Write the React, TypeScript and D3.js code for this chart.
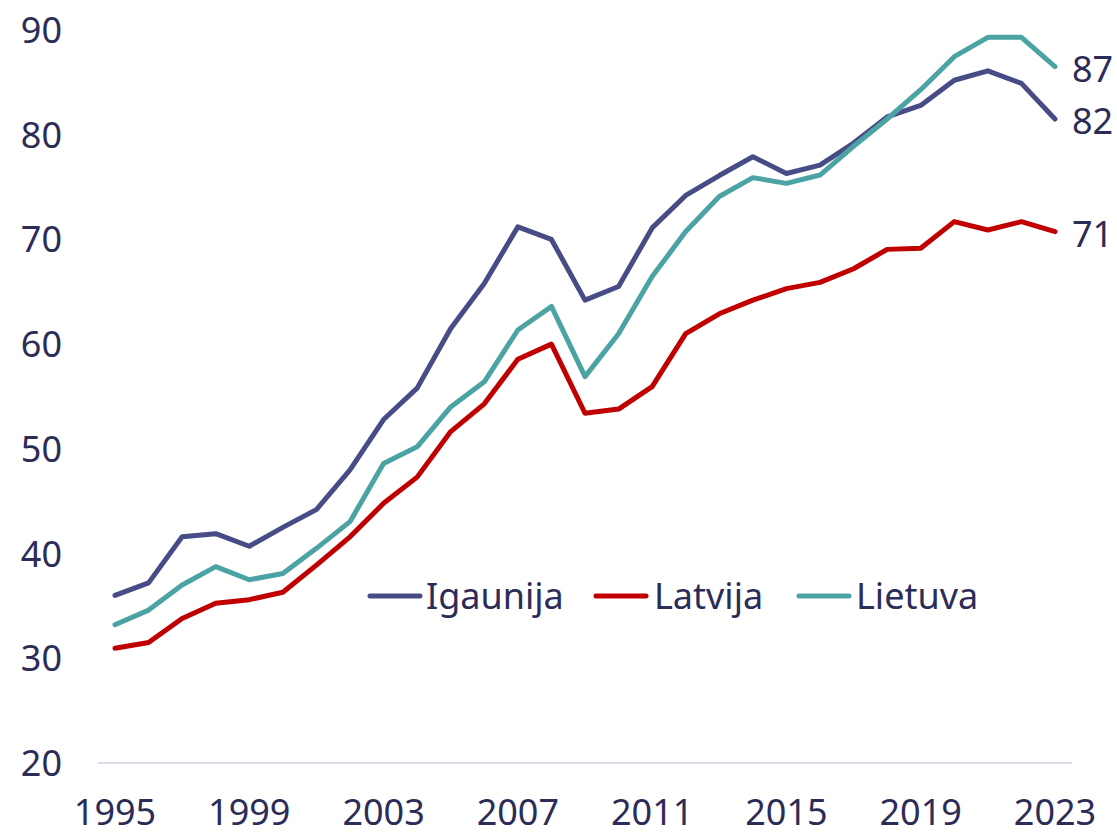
import React from 'react';
import * as d3 from 'd3';

const years = d3.range(1995, 2024);

const igaunija = [36.0, 37.2, 41.6, 41.9, 40.7, 42.5, 44.2, 48.0, 52.8, 55.8, 61.5, 65.8, 71.2, 70.0, 64.2, 65.5, 71.1, 74.2, 76.1, 77.9, 76.3, 77.1, 79.2, 81.7, 82.8, 85.2, 86.1, 84.9, 81.5];
const latvija = [30.95, 31.5, 33.8, 35.25, 35.6, 36.3, 38.9, 41.6, 44.8, 47.3, 51.65, 54.3, 58.55, 60.0, 53.4, 53.8, 55.95, 61.0, 62.9, 64.2, 65.3, 65.9, 67.2, 69.05, 69.15, 71.7, 70.9, 71.7, 70.75];
const lietuva = [33.2, 34.6, 37.0, 38.75, 37.5, 38.1, 40.5, 43.05, 48.6, 50.2, 54.0, 56.4, 61.35, 63.6, 56.9, 61.0, 66.45, 70.75, 74.1, 75.9, 75.35, 76.15, 78.9, 81.5, 84.3, 87.45, 89.3, 89.3, 86.5];

const yTicks = [20, 30, 40, 50, 60, 70, 80, 90];
const xTicks = [1995, 1999, 2003, 2007, 2011, 2015, 2019, 2023];

const series = [
  { name: 'Igaunija', values: igaunija, color: '#474b86', end: '82' },
  { name: 'Latvija', values: latvija, color: '#c00000', end: '71' },
  { name: 'Lietuva', values: lietuva, color: '#4ba3a3', end: '87' },
];

const W = 1117;
const H = 835;
const textColor = '#2b2c57';
const font = '"Noto Sans", sans-serif';

export default function App() {
  const x = d3.scaleLinear().domain([1995, 2023]).range([115, 1055]);
  const y = d3.scaleLinear().domain([20, 90]).range([763, 30]);

  const line = d3.line<number>()
    .x((_, i) => x(years[i]))
    .y(d => y(d));

  // legend positions (line start, text start)
  const legend = [
    { lx: 370, tx: 426 },
    { lx: 596, tx: 654 },
    { lx: 799, tx: 856 },
  ];
  const legendY = 596;

  return (
    <svg width={W} height={H} style={{ position: 'absolute', left: 0, top: 0, background: '#fff' }}
      fontFamily={font}>
      <line x1={98} x2={1072} y1={y(20)} y2={y(20)} stroke="#d9dbe9" strokeWidth={2} />

      {yTicks.map(t => (
        <text key={t} x={62} y={y(t) + 13} textAnchor="end" fontSize={36} fill={textColor}>{t}</text>
      ))}

      {xTicks.map(t => (
        <text key={t} x={x(t)} y={825} textAnchor="middle" fontSize={36} fill={textColor}>{t}</text>
      ))}

      {series.map(s => (
        <path key={s.name} d={line(s.values) || ''} fill="none" stroke={s.color}
          strokeWidth={5} strokeLinejoin="round" strokeLinecap="round" />
      ))}

      {series.map(s => (
        <text key={s.name + '-end'} x={1072} y={y(s.values[s.values.length - 1]) + 15}
          fontSize={36} fill={textColor}>{s.end}</text>
      ))}

      {series.map((s, i) => (
        <g key={s.name + '-leg'}>
          <line x1={legend[i].lx} x2={legend[i].lx + 50} y1={legendY} y2={legendY}
            stroke={s.color} strokeWidth={5} strokeLinecap="round" />
          <text x={legend[i].tx} y={legendY + 13} fontSize={36} fill={textColor}>{s.name}</text>
        </g>
      ))}
    </svg>
  );
}
